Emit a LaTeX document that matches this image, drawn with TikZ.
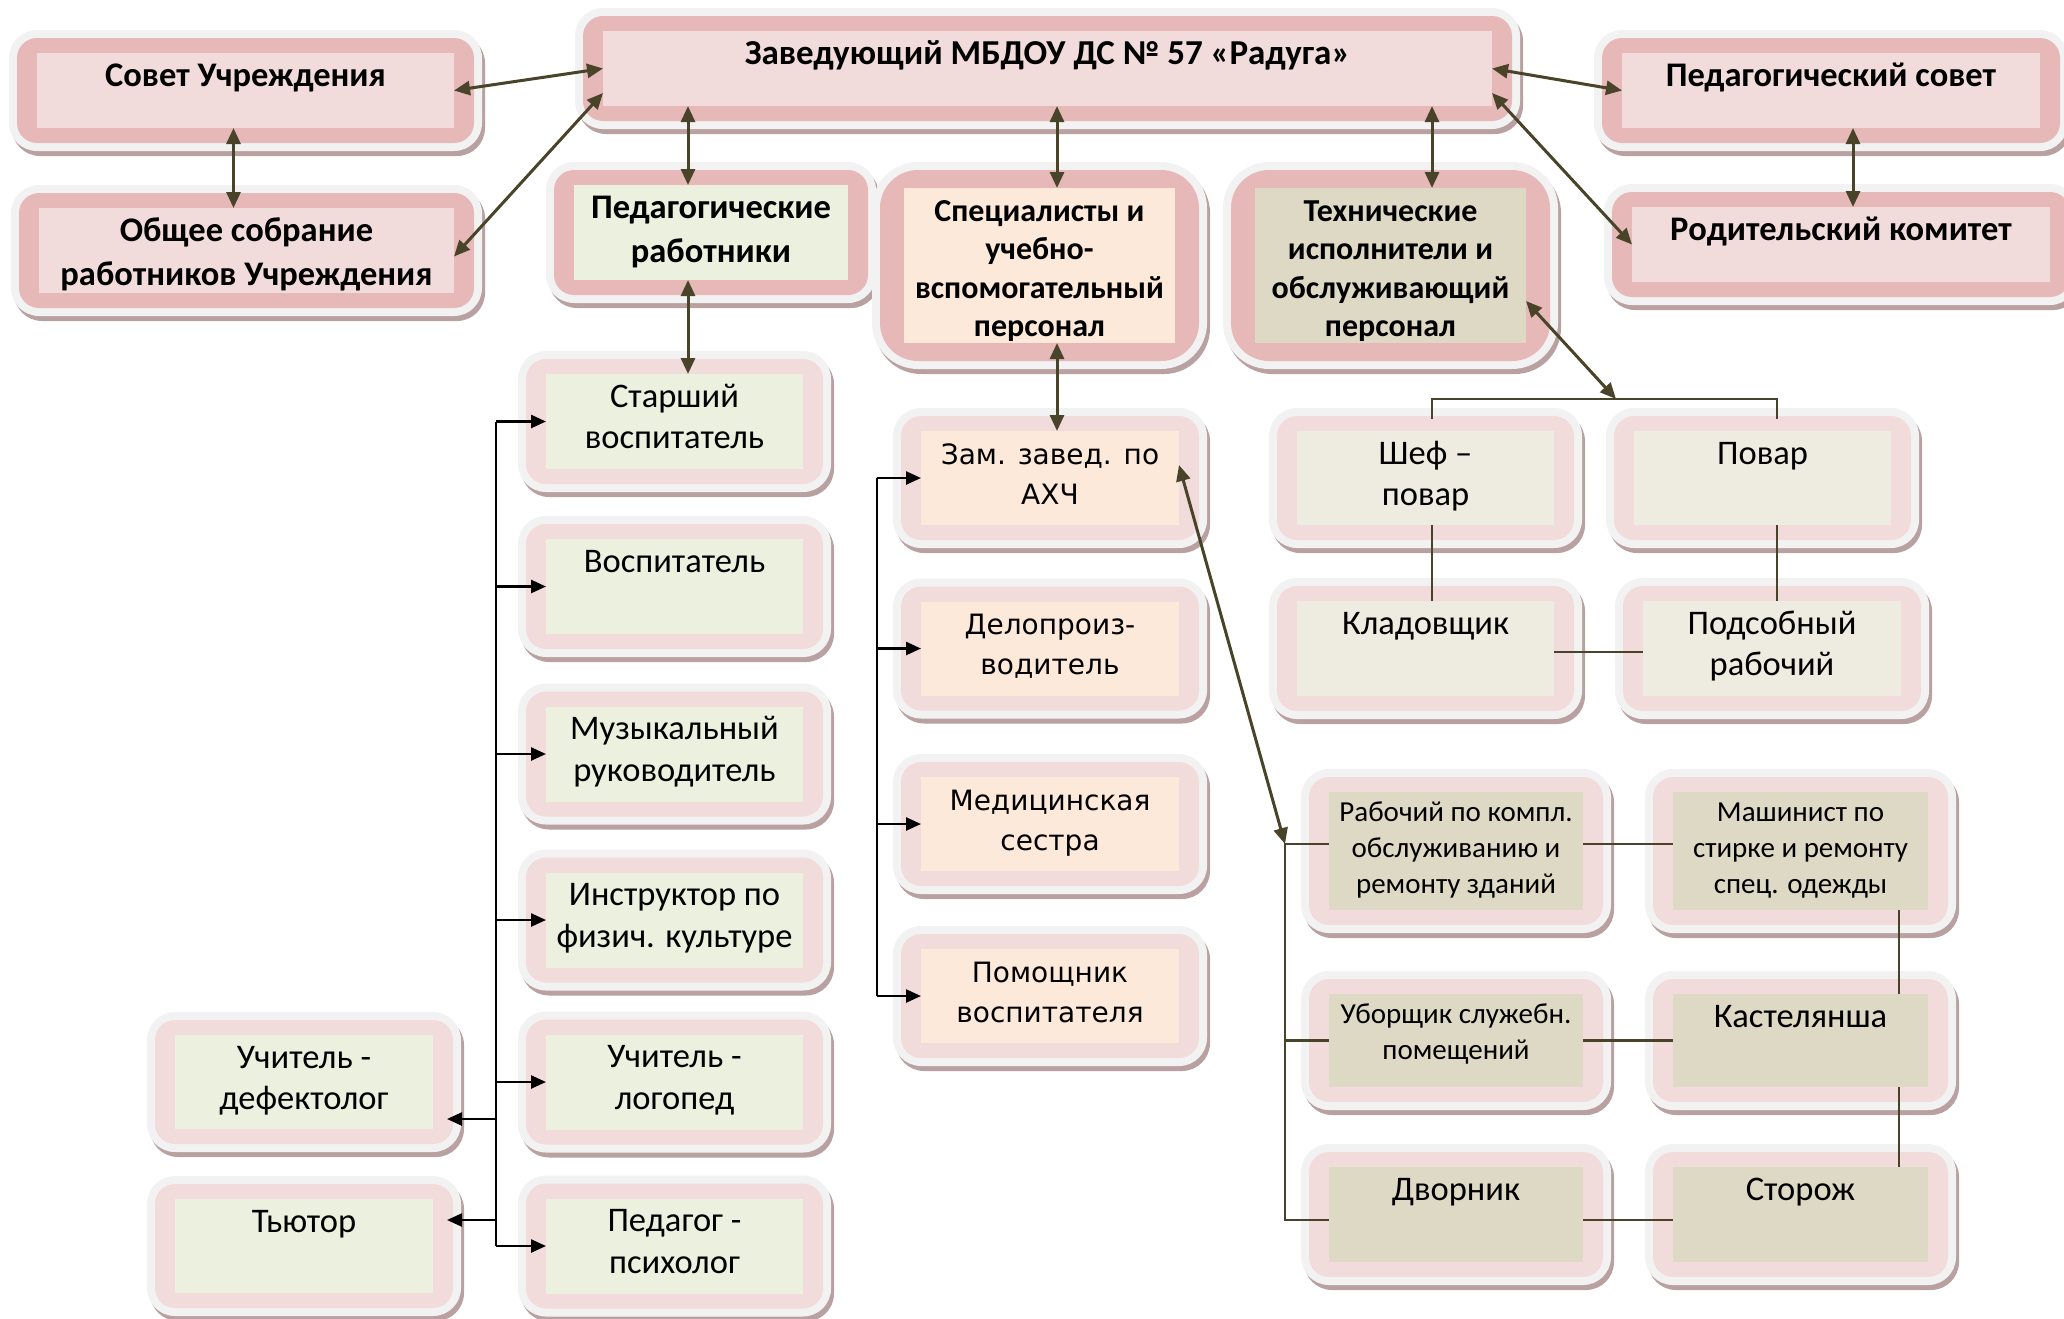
\documentclass[tikz,border=0pt]{standalone}
\usepackage{fontspec}
\setmainfont{Carlito}
\newfontfamily\verdfont{DejaVu Sans}
\usetikzlibrary{arrows.meta, positioning, calc}

\definecolor{pinkdark}{HTML}{E6B9B8}
\definecolor{pinklight}{HTML}{F2DCDB}
\definecolor{greenpale}{HTML}{EBF1DE}
\definecolor{peachpale}{HTML}{FDE9D9}
\definecolor{tandark}{HTML}{DDD9C4}
\definecolor{tanpale}{HTML}{EEECE1}
\definecolor{halogray}{HTML}{F2F2F2}
\definecolor{shadowgray}{HTML}{B9A1A1}
\definecolor{arrowolive}{HTML}{494429}

\tikzset{
  cell/.style={rectangle, inner sep=0pt, outer sep=0pt},
  headfont/.style={font=\fontsize{34.5}{44}\selectfont\bfseries},
  bigfont/.style={font=\fontsize{35}{44}\selectfont\bfseries},
  groupfont/.style={font=\fontsize{32}{38.5}\selectfont\bfseries},
  bodyfont/.style={font=\fontsize{34.5}{41.5}\selectfont},
  smallfont/.style={font=\fontsize{29}{36}\selectfont},
  verdbody/.style={font=\verdfont\fontsize{28}{40}\selectfont},
  link/.style={arrowolive, line width=3pt,
    {Triangle[length=16pt,width=14pt]}-{Triangle[length=16pt,width=14pt]}},
  tie/.style={arrowolive, line width=2.5pt},
  bus/.style={black, line width=2.5pt},
  busarrow/.style={bus, -{Triangle[length=15pt,width=13pt]}}
}

% pink frame round a cell, with its light halo and shadow
\newcommand\cellpadx{20}
\newcommand\cellpady{15}
\newcommand\cellrad{20pt}
\newcommand\cellbase{33pt}
\newcommand\orgcell[7]{%
  \pgfmathsetmacro\cellhw{#3/2+\cellpadx}%
  \pgfmathsetmacro\cellhh{#4/2+\cellpady}%
  \begin{scope}[shift={(#2)}]
    \fill[shadowgray, rounded corners=\cellrad+8pt]
      (-\cellhw-8+3,-\cellhh-8+5) rectangle (\cellhw+8+3,\cellhh+8+5);
    \fill[halogray, rounded corners=\cellrad+8pt]
      (-\cellhw-8,-\cellhh-8) rectangle (\cellhw+8,\cellhh+8);
    \fill[#5, rounded corners=\cellrad] (-\cellhw,-\cellhh) rectangle (\cellhw,\cellhh);
  \end{scope}
  \node[cell, #6] (#1) at (#2)
    {\parbox[c][#4pt][t]{#3pt}{\centering\rule{0pt}{\cellbase}#7}};%
}

\begin{document}
\begin{tikzpicture}[x=1pt, y=-1pt]
  \useasboundingbox (0,0) rectangle (2064,1318);

  % Head and councils
  \orgcell{zav}{1047.5,68.5}{889}{75}{pinkdark}{fill=pinklight, bigfont}{Заведующий МБДОУ ДС № 57 «Радуга»}
  \orgcell{sovet}{245.5,90.5}{417}{75}{pinkdark}{fill=pinklight, headfont}{Совет Учреждения}
  \orgcell{obshee}{246.5,250.5}{415}{85}{pinkdark}{fill=pinklight, headfont}{Общее собрание\\работников Учреждения}
  \orgcell{pedsovet}{1831,90.5}{418}{75}{pinkdark}{fill=pinklight, headfont}{Педагогический совет}
  \orgcell{roditel}{1841,244.5}{418}{75}{pinkdark}{fill=pinklight, headfont}{Родительский комитет}
  \orgcell{pedrab}{711,232.5}{274}{95}{pinkdark}{fill=greenpale, headfont}{Педагогические\\работники}

  % Groups of staff
  \renewcommand\cellpadx{24}\renewcommand\cellpady{18}\renewcommand\cellrad{38pt}
  \orgcell{spec}{1039.5,265.5}{271}{155}{pinkdark}{fill=peachpale, groupfont}{Специалисты и\\учебно-\\вспомогательный\\персонал}
  \orgcell{tech}{1390.5,265.5}{271}{155}{pinkdark}{fill=tandark, groupfont}{Технические\\исполнители и\\обслуживающий\\персонал}
  \renewcommand\cellpadx{20}\renewcommand\cellpady{15}\renewcommand\cellrad{20pt}

  % Pedagogical staff
  \foreach \n/\y/\txt in {starsh/421.5/{Старший\\воспитатель}, vosp/586.5/{Воспитатель},
      muz/754/{Музыкальный\\руководитель}, instr/920/{Инструктор по\\физич. культуре},
      logo/1082/{Учитель -\\логопед}, psych/1246/{Педагог -\\психолог}} {
    \orgcell{\n}{674.5,\y}{257}{95}{pinklight}{fill=greenpale, bodyfont}{\txt}
  }
  \orgcell{defekt}{304,1082}{258}{94}{pinklight}{fill=greenpale, bodyfont}{Учитель -\\дефектолог}
  \orgcell{tutor}{304,1246}{258}{94}{pinklight}{fill=greenpale, bodyfont}{Тьютор}

  % Specialists
  \foreach \n/\y/\txt in {zam/478/{Зам. завед. по\\АХЧ}, delo/648.5/{Делопроиз-\\водитель},
      med/824/{Медицинская\\сестра}, pomo/996/{Помощник\\воспитателя}} {
    \orgcell{\n}{1050,\y}{258}{94}{pinklight}{fill=peachpale, verdbody}{\txt}
  }

  % Kitchen
  \orgcell{chef}{1425.5,478}{257}{94}{pinklight}{fill=tanpale, bodyfont}{Шеф –\\повар}
  \orgcell{povar}{1762.5,478}{257}{94}{pinklight}{fill=tanpale, bodyfont}{Повар}
  \orgcell{klad}{1425.5,648.5}{257}{95}{pinklight}{fill=tanpale, bodyfont}{Кладовщик}
  \orgcell{podsob}{1772,648.5}{258}{95}{pinklight}{fill=tanpale, bodyfont}{Подсобный\\рабочий}

  % Service staff
  \renewcommand\cellbase{29pt}
  \orgcell{rabkompl}{1456,851}{254}{118}{pinklight}{fill=tandark, smallfont}{Рабочий по компл.\\обслуживанию и\\ремонту зданий}
  \orgcell{mash}{1800.5,851}{255}{118}{pinklight}{fill=tandark, smallfont}{Машинист по\\стирке и ремонту\\спец. одежды}
  \orgcell{uborsh}{1456,1040.5}{254}{93}{pinklight}{fill=tandark, smallfont}{Уборщик служебн.\\помещений}
  \renewcommand\cellbase{33pt}
  \orgcell{kastel}{1800.5,1040.5}{255}{93}{pinklight}{fill=tandark, bodyfont}{Кастелянша}
  \orgcell{dvor}{1456,1214.5}{254}{95}{pinklight}{fill=tandark, bodyfont}{Дворник}
  \orgcell{storozh}{1800.5,1214.5}{255}{95}{pinklight}{fill=tandark, bodyfont}{Сторож}

  % Links of the head
  \draw[link] (sovet.east) -- (zav.west);
  \draw[link] ([yshift=-6pt]obshee.east) -- ([yshift=13pt]zav.south west);
  \draw[link] (zav.east) -- (pedsovet.west);
  \draw[link] ([yshift=13pt]zav.south east) -- (roditel.west);
  \draw[link] ([xshift=-12pt]sovet.south) -- ([xshift=-12pt]sovet.south |- obshee.north);
  \draw[link] ([xshift=22pt]pedsovet.south) -- ([xshift=22pt]pedsovet.south |- roditel.north);
  \draw[link] ([xshift=-23pt]pedrab.north) -- ([xshift=-23pt]pedrab.north |- zav.south);
  \draw[link] ([xshift=17.5pt]spec.north) -- ([xshift=17.5pt]spec.north |- zav.south);
  \draw[link] ([xshift=41.5pt]tech.north) -- ([xshift=41.5pt]tech.north |- zav.south);
  \draw[link] ([xshift=-23pt]pedrab.south) -- ([xshift=-23pt]pedrab.south |- starsh.north);
  \draw[link] ([xshift=17.5pt]spec.south) -- ([xshift=17.5pt]spec.south |- zam.north);

  % Kitchen bracket
  \coordinate (brk) at ($(tech.east)+(90,133.5)$);
  \draw[link] ([yshift=-35.5pt]tech.east) -- (brk);
  \draw[tie] ([xshift=6.5pt,yshift=12pt]chef.north) |- (brk) -| ([xshift=14.5pt,yshift=12pt]povar.north);
  \draw[tie] ([xshift=6.5pt]chef.south) -- ([xshift=6.5pt]klad.north);
  \draw[tie] ([xshift=14.5pt]povar.south) -- ([xshift=14.5pt]povar.south |- podsob.north);
  \draw[tie] ([yshift=-3.5pt]klad.east) -- ([yshift=-3.5pt]podsob.west);

  % Service staff lines
  \draw[tie] ([yshift=7pt]rabkompl.west) -- ++(-44,0) coordinate (tbus) |- ([yshift=-5.5pt]dvor.west);
  \draw[tie] (uborsh.west) -- (uborsh.west -| tbus);
  \draw[link] ([yshift=13pt]zam.east) -- (tbus);
  \draw[tie] ([yshift=7pt]rabkompl.east) -- ([yshift=7pt]mash.west);
  \draw[tie] (uborsh.east) -- (kastel.west);
  \draw[tie] ([yshift=-5.5pt]dvor.east) -- ([yshift=-5.5pt]storozh.west);
  \draw[tie] ([xshift=98.5pt]mash.south) -- ([xshift=98.5pt]kastel.north);
  \draw[tie] ([xshift=98.5pt]kastel.south) -- ([xshift=98.5pt]storozh.north);

  % Pedagogical bus
  \coordinate (pbus) at ($(starsh.west)+(-50,0)$);
  \draw[bus] (pbus) -- (pbus |- psych.west);
  \foreach \n in {starsh, vosp, muz, instr, logo, psych}
    \draw[busarrow] (pbus |- \n.west) -- (\n.west);
  \draw[busarrow] ([yshift=-37pt]pbus |- defekt.east) -- ([xshift=14pt,yshift=-37pt]defekt.east);
  \draw[busarrow] ([yshift=26pt]pbus |- tutor.east) -- ([xshift=14pt,yshift=26pt]tutor.east);

  % Specialists bus
  \coordinate (sbus) at ($(zam.west)+(-44,0)$);
  \draw[bus] (sbus) -- (sbus |- pomo.west);
  \foreach \n in {zam, delo, med, pomo}
    \draw[busarrow] (sbus |- \n.west) -- (\n.west);
\end{tikzpicture}
\end{document}
